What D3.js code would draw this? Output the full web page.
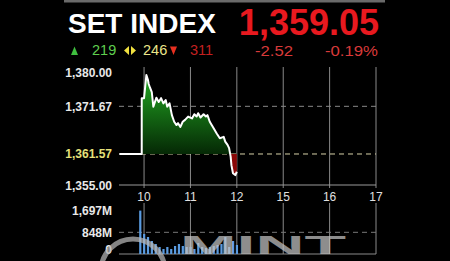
<!DOCTYPE html>
<html>
<head>
<meta charset="utf-8">
<script src="https://cdn.jsdelivr.net/npm/d3@7"></script>
<style>
  html, body { margin: 0; padding: 0; background: #000; }
  svg { display: block; font-family: 'Liberation Sans', Arial, sans-serif; }
</style>
</head>
<body>
<div id="chart"></div>
<script>
// price trace (morning session, HH:MM)
const priceTimes = ['09:28', '09:57', '09:57', '10:00', '10:03', '10:05', '10:06', '10:08', '10:10', '10:12',
  '10:16', '10:19', '10:22', '10:25', '10:28', '10:30', '10:33', '10:36', '10:39', '10:42',
  '10:44', '10:47', '10:50', '10:53', '10:57', '11:02', '11:05', '11:08', '11:10', '11:13',
  '11:17', '11:20', '11:22', '11:25', '11:30', '11:34', '11:38', '11:43', '11:45', '11:48',
  '11:50', '11:52', '11:53', '11:55', '11:58', '12:00']
const priceValues = [1361.57, 1361.57, 1373.4, 1373.4, 1378.3, 1377.3, 1376.4, 1375.5, 1374.7, 1371.6,
  1373.5, 1372.6, 1373.4, 1372.3, 1373.0, 1371.6, 1372.3, 1369.8, 1368.4, 1367.7,
  1368.1, 1367.3, 1368.4, 1368.8, 1369.5, 1369.1, 1370.0, 1369.5, 1370.2, 1369.3,
  1370.0, 1369.5, 1369.8, 1368.4, 1367.0, 1365.9, 1364.9, 1365.2, 1364.2, 1363.5,
  1362.8, 1361.0, 1359.2, 1357.5, 1357.1, 1357.8]

// 5 minute volume bars, millions
const volumeTimes = ['09:55', '10:00', '10:05', '10:10', '10:15', '10:20', '10:25', '10:30', '10:35', '10:40',
  '10:45', '10:50', '10:55', '11:00', '11:05', '11:10', '11:15', '11:20', '11:25', '11:30',
  '11:35', '11:40', '11:45', '11:50', '11:55', '12:00']
const volumeValues = [1697, 782, 665, 508, 391, 274, 196, 274, 196, 313,
  391, 313, 274, 274, 196, 430, 274, 235, 274, 313,
  352, 391, 665, 274, 508, 352]

const hourTicks = [10, 11, 12, 15, 16, 17]
const priceTicks = [1355.00, 1361.57, 1371.67, 1380.00]
const prevClose = 1361.57
const volumeTicks = [0, 848, 1697]

const header = { name: 'SET INDEX', last: '1,359.05', change: '-2.52', pct: '-0.19%', up: 219, flat: 246, down: 311 }

const W = 450, H = 261
const svg = d3.select('#chart').append('svg').attr('width', W).attr('height', H)

// trading-session index: 10:00 -> 0, lunch break collapsed so 15:00 -> 3
function sessionIndex(str) {
  const [h, m] = str.split(':').map(Number)
  const hr = h + m / 60
  return hr <= 12.5 ? hr - 10 : hr - 12
}
const tickIndex = h => (h <= 12 ? h - 10 : h - 12)

const x = d3.scaleLinear().domain([-0.54, 5]).range([119, 376])
const y = d3.scaleLinear().domain([1355, 1380]).range([185, 67])
const yv = d3.scaleLinear().domain([0, 1697]).range([254, 210.6])

// top bar
svg.append('rect').attr('x', 64).attr('y', 0).attr('width', 321).attr('height', 2.5).attr('fill', '#6a6a6a')

// header texts
svg.append('text').attr('x', 68).attr('y', 33).attr('fill', '#fff')
  .attr('font-size', 28).attr('font-weight', 'bold').text(header.name)
svg.append('text').attr('x', 379).attr('y', 35).attr('fill', '#e8191f').attr('text-anchor', 'end')
  .attr('font-size', 36).attr('font-weight', 'bold').text(header.last)

svg.append('path').attr('d', 'M71,55 L74.5,46.5 L78,55 Z').attr('fill', '#3fbf3f')
svg.append('text').attr('x', 92).attr('y', 55).attr('fill', '#5fcf4f').attr('font-size', 14.5).text(header.up)
svg.append('path').attr('d', 'M129,46 L124,50.5 L129,55 Z M131,46 L136,50.5 L131,55 Z').attr('fill', '#f0e040')
svg.append('text').attr('x', 143).attr('y', 55).attr('fill', '#ebe68a').attr('font-size', 14.5).text(header.flat)
svg.append('path').attr('d', 'M170,46.5 L177,46.5 L173.5,55 Z').attr('fill', '#e83020')
svg.append('text').attr('x', 190).attr('y', 55).attr('fill', '#c42020').attr('font-size', 14.5).text(header.down)
svg.append('text').attr('x', 255).attr('y', 56).attr('fill', '#d83a3a').attr('font-size', 14.5)
  .attr('textLength', 38).attr('lengthAdjust', 'spacingAndGlyphs').text(header.change)
svg.append('text').attr('x', 325).attr('y', 56).attr('fill', '#d83a3a').attr('font-size', 14.5)
  .attr('textLength', 53).attr('lengthAdjust', 'spacingAndGlyphs').text(header.pct)

// gradient for gain area
const defs = svg.append('defs')
const grad = defs.append('linearGradient').attr('id', 'gain').attr('gradientUnits', 'userSpaceOnUse')
  .attr('x1', 0).attr('x2', 0).attr('y1', y(1378)).attr('y2', y(prevClose))
grad.append('stop').attr('offset', '0%').attr('stop-color', '#22a722')
grad.append('stop').attr('offset', '100%').attr('stop-color', '#052805')
defs.append('clipPath').attr('id', 'above').append('rect')
  .attr('x', 0).attr('y', 0).attr('width', W).attr('height', y(prevClose))
defs.append('clipPath').attr('id', 'below').append('rect')
  .attr('x', 0).attr('y', y(prevClose)).attr('width', W).attr('height', H)

// vertical grid, price panel + volume panel
hourTicks.forEach(h => {
  svg.append('line').attr('x1', x(tickIndex(h))).attr('x2', x(tickIndex(h)))
    .attr('y1', 67).attr('y2', 188).attr('stroke', '#8a8a8a').attr('stroke-width', 1)
  svg.append('line').attr('x1', x(tickIndex(h))).attr('x2', x(tickIndex(h)))
    .attr('y1', 203).attr('y2', 254).attr('stroke', '#8a8a8a').attr('stroke-width', 1)
})
svg.append('line').attr('x1', 119).attr('x2', 376).attr('y1', y(1355)).attr('y2', y(1355)).attr('stroke', '#9a9a9a')
svg.append('line').attr('x1', 119).attr('x2', 376).attr('y1', y(1371.67)).attr('y2', y(1371.67))
  .attr('stroke', '#888').attr('stroke-dasharray', '5,4')
svg.append('line').attr('x1', 141).attr('x2', 376).attr('y1', y(prevClose)).attr('y2', y(prevClose))
  .attr('stroke', '#d8d2a8').attr('stroke-dasharray', '5,4')

// price y labels
priceTicks.forEach(v => {
  const yy = Math.max(y(v), 72)
  svg.append('text').attr('x', 112).attr('y', yy + 4.5).attr('text-anchor', 'end')
    .attr('font-size', 12).attr('font-weight', 'bold')
    .attr('fill', v === prevClose ? '#e6e07a' : '#e8e8e8')
    .text(d3.format(',.2f')(v))
})

// hour labels
hourTicks.forEach(h => {
  svg.append('text').attr('x', x(tickIndex(h))).attr('y', 201).attr('text-anchor', 'middle')
    .attr('font-size', 12).attr('fill', '#e0e0e0').text(h)
})

// price area + line
const pts = priceTimes.map((t, i) => ({ i: sessionIndex(t), v: priceValues[i] }))
const area = d3.area().x(d => x(d.i)).y0(y(prevClose)).y1(d => y(d.v))
svg.append('path').datum(pts).attr('d', area).attr('fill', 'url(#gain)').attr('clip-path', 'url(#above)')
svg.append('path').datum(pts).attr('d', area).attr('fill', '#8a0808').attr('clip-path', 'url(#below)')
svg.append('path').datum(pts).attr('d', d3.line().x(d => x(d.i)).y(d => y(d.v)))
  .attr('fill', 'none').attr('stroke', '#fff').attr('stroke-width', 2).attr('stroke-linejoin', 'round')

// volume panel
svg.append('line').attr('x1', 119).attr('x2', 376).attr('y1', yv(848)).attr('y2', yv(848))
  .attr('stroke', '#777').attr('stroke-dasharray', '5,4')
svg.append('line').attr('x1', 119).attr('x2', 376).attr('y1', yv(0)).attr('y2', yv(0)).attr('stroke', '#8a8a8a')
volumeTicks.forEach(v => {
  svg.append('text').attr('x', 112).attr('y', v === 0 ? 254 : yv(v) + 4.5).attr('text-anchor', 'end')
    .attr('font-size', 12).attr('font-weight', 'bold').attr('fill', '#e8e8e8')
    .text(v === 0 ? '0' : d3.format(',')(v) + 'M')
})
svg.selectAll('.vol').data(volumeTimes).enter().append('rect')
  .attr('x', t => x(sessionIndex(t)) - 1)
  .attr('y', (t, i) => yv(volumeValues[i]))
  .attr('width', 2.2)
  .attr('height', (t, i) => yv(0) - yv(volumeValues[i]))
  .attr('fill', '#5a9be0')

// watermark (kept inside the frame)
const wm = svg.append('g').attr('opacity', 0.72)
wm.append('circle').attr('cx', 133).attr('cy', 271).attr('r', 32).attr('fill', 'none')
  .attr('stroke', '#b8b8b8').attr('stroke-width', 5)
wm.append('text').attr('x', 180).attr('y', 254).attr('fill', '#c4c4c4')
  .attr('font-size', 26).attr('font-weight', 'bold')
  .attr('textLength', 166).attr('lengthAdjust', 'spacingAndGlyphs').text('MINT')
</script>
</body>
</html>
